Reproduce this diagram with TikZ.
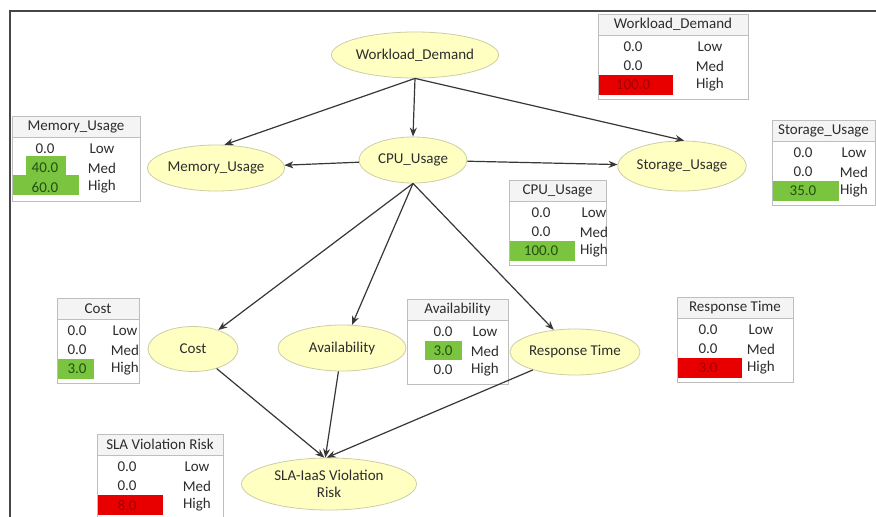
\documentclass[tikz,border=0pt]{standalone}
\usepackage{fontspec}
\setmainfont{Carlito}
\usetikzlibrary{shapes.geometric,arrows.meta,calc}

\definecolor{ellfill}{RGB}{255,255,194}
\definecolor{elldraw}{RGB}{205,205,165}
\definecolor{hlgreen}{RGB}{122,196,64}
\definecolor{hlred}{RGB}{232,0,0}
\definecolor{tabline}{RGB}{190,190,190}
\definecolor{hdrfill}{RGB}{244,244,244}
\definecolor{txt}{RGB}{45,45,45}
\definecolor{arrcol}{RGB}{55,55,55}
\definecolor{gtxt}{RGB}{35,80,15}
\definecolor{rtxt}{RGB}{160,0,0}

\tikzset{
  ell/.style={ellipse, fill=ellfill, draw=elldraw, line width=0.8pt, inner sep=0pt,
    text=txt, font=\fontsize{15}{17}\selectfont, align=center},
  tabtxt/.style={inner sep=0pt, text=txt, font=\fontsize{15}{17}\selectfont},
  conn/.style={draw=arrcol, line width=1.2pt, -{Stealth[length=9pt,width=7pt]}},
}

% name, left, top, width, value x offset, label x offset, title
\newcommand\dtab[7]{%
  \fill[hdrfill] (#2,#3) rectangle ++(#4,21);
  \draw[tabline] (#2,#3) rectangle ++(#4,21);
  \draw[tabline] (#2,#3+21) rectangle ++(#4,64);
  \node[tabtxt] (#1-title) at (#2+#4/2,#3+10.5) {#7};
  \node[tabtxt] (#1-low) at (#2+#6,#3+33) {Low};
  \node[tabtxt] (#1-med) at (#2+#6,#3+52) {Med};
  \node[tabtxt] (#1-high) at (#2+#6,#3+71) {High};
  \coordinate (#1-v1) at (#2+#5,#3+33);
  \coordinate (#1-v2) at (#2+#5,#3+52);
  \coordinate (#1-v3) at (#2+#5,#3+71);
}

\begin{document}
\begin{tikzpicture}[x=1pt,y=-1pt]
\useasboundingbox (0,0) rectangle (876,517);
\clip (0,0) rectangle (876,517);
\fill[white] (0,0) rectangle (876,517);

% frame
\draw[line width=2pt, black!72] (10,520) -- (10,11) -- (880,11);

% highlights
\fill[hlred]   (598,75) rectangle ++(75,20);   % workload high
\fill[hlgreen] (26,156) rectangle ++(40,19);   % memory med
\fill[hlgreen] (12,175) rectangle ++(67,20);   % memory high
\fill[hlgreen] (772,181) rectangle ++(67,20);  % storage high
\fill[hlgreen] (509,241) rectangle ++(66,20);  % cpu high
\fill[hlgreen] (57,359) rectangle ++(37,20);   % cost high
\fill[hlgreen] (425,341) rectangle ++(37,19);  % availability med
\fill[hlred]   (677,358) rectangle ++(65,20);  % response high
\fill[hlred]   (97,495) rectangle ++(66,20);   % sla high

% tables
\dtab{twd}{598}{14}{150}{35}{112}{Workload\_Demand}
\node[tabtxt] (twd-a) at (twd-v1) {0.0};
\node[tabtxt] (twd-b) at (twd-v2) {0.0};
\node[tabtxt, text=rtxt] (twd-c) at (twd-v3) {100.0};

\dtab{tmem}{12}{116}{128}{33}{90}{Memory\_Usage}
\node[tabtxt] (tmem-a) at (tmem-v1) {0.0};
\node[tabtxt, text=gtxt] (tmem-b) at (tmem-v2) {40.0};
\node[tabtxt, text=gtxt] (tmem-c) at (tmem-v3) {60.0};

\dtab{tsto}{772}{120}{103}{31}{82}{Storage\_Usage}
\node[tabtxt] (tsto-a) at (tsto-v1) {0.0};
\node[tabtxt] (tsto-b) at (tsto-v2) {0.0};
\node[tabtxt, text=gtxt] (tsto-c) at (tsto-v3) {35.0};

\dtab{tcpu}{509}{180}{97}{32}{85}{CPU\_Usage}
\node[tabtxt] (tcpu-a) at (tcpu-v1) {0.0};
\node[tabtxt] (tcpu-b) at (tcpu-v2) {0.0};
\node[tabtxt, text=gtxt] (tcpu-c) at (tcpu-v3) {100.0};

\dtab{tcost}{57}{298}{82}{20}{68}{Cost}
\node[tabtxt] (tcost-a) at (tcost-v1) {0.0};
\node[tabtxt] (tcost-b) at (tcost-v2) {0.0};
\node[tabtxt, text=gtxt] (tcost-c) at (tcost-v3) {3.0};

\dtab{tav}{407}{299}{101}{36}{78}{Availability}
\node[tabtxt] (tav-a) at (tav-v1) {0.0};
\node[tabtxt, text=gtxt] (tav-b) at (tav-v2) {3.0};
\node[tabtxt] (tav-c) at (tav-v3) {0.0};

\dtab{trt}{677}{297}{116}{31}{84}{Response Time}
\node[tabtxt] (trt-a) at (trt-v1) {0.0};
\node[tabtxt] (trt-b) at (trt-v2) {0.0};
\node[tabtxt, text=rtxt] (trt-c) at (trt-v3) {3.0};

\dtab{tsla}{97}{434}{126}{30}{100}{SLA Violation Risk}
\node[tabtxt] (tsla-a) at (tsla-v1) {0.0};
\node[tabtxt] (tsla-b) at (tsla-v2) {0.0};
\node[tabtxt, text=rtxt] (tsla-c) at (tsla-v3) {8.0};

% ellipses
\node[ell, minimum width=142pt, minimum height=46pt] (wd) at (415,55) {Workload\_Demand};
\node[ell, minimum width=134pt, minimum height=46pt] (mem) at (216,168) {Memory\_Usage};
\node[ell, minimum width=108pt, minimum height=46pt] (cpu) at (413,160) {CPU\_Usage};
\node[ell, minimum width=122pt, minimum height=50pt] (sto) at (682,166) {Storage\_Usage};
\node[ell, minimum width=90pt, minimum height=45pt] (cost) at (193,349) {Cost};
\node[ell, minimum width=128pt, minimum height=46pt] (avail) at (342,348) {Availability};
\node[ell, minimum width=130pt, minimum height=46pt] (resp) at (575,352) {Response Time};
\node[ell, minimum width=175pt, minimum height=52pt] (sla) at (329,484) {SLA-IaaS Violation\\Risk};

% connectors
\draw[conn] (wd.south) -- (mem.70);
\draw[conn] (wd.south) -- (cpu.north);
\draw[conn] (wd.south) -- (sto.85);
\draw[conn] (cpu) -- (mem);
\draw[conn] (cpu) -- (sto);
\draw[conn] (cpu.south) -- (cost);
\draw[conn] (cpu.south) -- (avail);
\draw[conn] (cpu.south) -- (resp);
\draw[conn] (cost) -- (sla.100);
\draw[conn] (avail) -- (sla.98);
\draw[conn] (resp) -- (sla.95);
\end{tikzpicture}
\end{document}
